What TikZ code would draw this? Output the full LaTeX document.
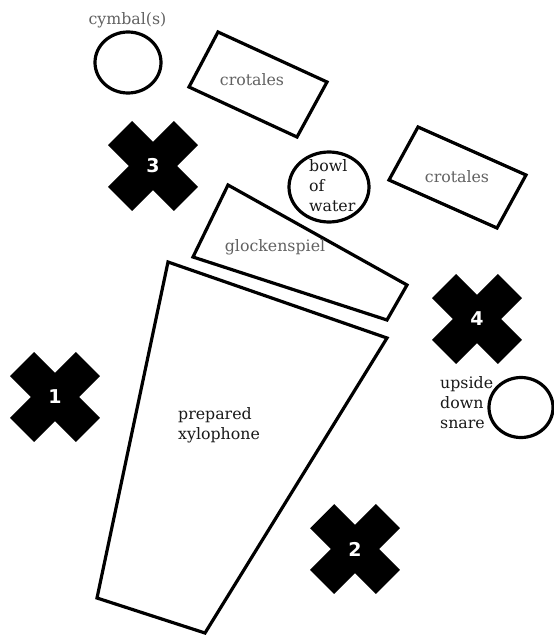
\documentclass[tikz,border=0pt]{standalone}
\usepackage{fontspec}
\setmainfont{DejaVu Serif}
\newfontfamily\numfont{DejaVu Sans}
\begin{document}
\begin{tikzpicture}[x=1pt,y=-1pt,
  outline/.style={draw=black, line width=3.2pt, line join=miter},
  lbl/.style={font=\fontsize{15.8}{20}\selectfont, text=black!90, inner sep=0, align=left},
  lblgray/.style={lbl, text=black!62},
  xbar/.style={fill=black, minimum width=93pt, minimum height=34pt, inner sep=0, outer sep=0},
  xnum/.style={font=\numfont\bfseries\fontsize{19}{19}\selectfont, text=white, inner sep=0}]
\useasboundingbox (0,0) rectangle (554,637);

% instruments
\draw[outline] (128,62.5) ellipse [x radius=33, y radius=30.5];
\draw[outline] (218,32) -- (327,82) -- (297,137) -- (189,87) -- cycle;
\draw[outline] (418,127) -- (526,175) -- (497,228) -- (389,180) -- cycle;
\draw[outline] (329,187) ellipse [x radius=40, y radius=35];
\draw[outline] (228,185) -- (407,285) -- (387,320) -- (193,257) -- cycle;
\draw[outline] (168,262) -- (387,338) -- (205,633) -- (97,598) -- cycle;
\draw[outline] (521,407.5) ellipse [x radius=32, y radius=30];

% labels
\node[lblgray] (cymbal) at (127.5,20) {cymbal(s)};
\node[lblgray] (crotalesA) at (252,80) {crotales};
\node[lblgray] (crotalesB) at (457,177) {crotales};
\node[lbl, anchor=west] (bowl) at (309,186) {bowl\\of\\water};
\node[lblgray] (glock) at (275,247) {glockenspiel};
\node[lbl, anchor=west] (xylo) at (178,425) {prepared\\xylophone};
\node[lbl, anchor=west] (snare) at (440,403) {upside\\down\\snare};

% player positions
\foreach \n/\px/\py in {1/55/397, 2/355/549, 3/153/166, 4/477/319} {
  \node[xbar, rotate=45] (bar\n a) at (\px,\py) {};
  \node[xbar, rotate=-45] (bar\n b) at (\px,\py) {};
  \node[xnum] (pos\n) at (\px,\py) {\n};
}
\end{tikzpicture}
\end{document}
